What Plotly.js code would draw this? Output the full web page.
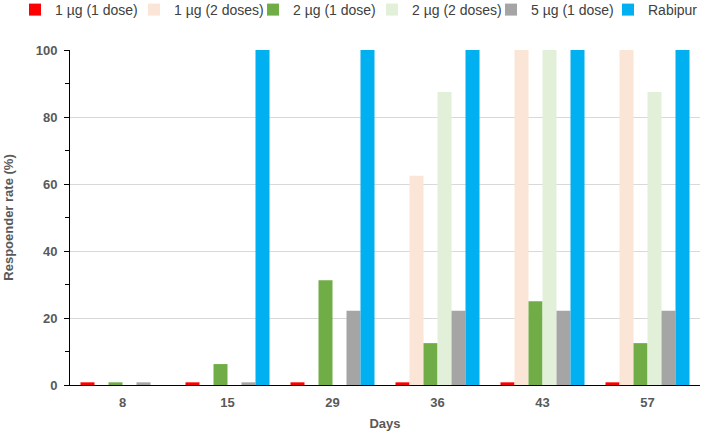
<!DOCTYPE html>
<html>
<head>
<meta charset="utf-8">
<script src="https://cdn.plot.ly/plotly-3.0.1.min.js"></script>
<style>
  html, body { margin: 0; padding: 0; background: #fff; }
  #chart { width: 703px; height: 431px; }
</style>
</head>
<body>
<div id="chart"></div>
<script>
var days = ['8', '15', '29', '36', '43', '57'];

var seriesNames = ['1 µg (1 dose)', '1 µg (2 doses)', '2 µg (1 dose)', '2 µg (2 doses)', '5 µg (1 dose)', 'Rabipur'];
var seriesColors = ['#ff0000', '#fbe5d6', '#70ad47', '#e2f0d9', '#a5a5a5', '#00b0f0'];

var oneUgOneDose = [0.8, 0.8, 0.8, 0.8, 0.8, 0.8];
var oneUgTwoDoses = [null, null, null, 62.5, 100, 100];
var twoUgOneDose = [0.8, 6.25, 31.25, 12.5, 25, 12.5];
var twoUgTwoDoses = [null, null, null, 87.5, 100, 87.5];
var fiveUgOneDose = [0.8, 0.8, 22.2, 22.2, 22.2, 22.2];
var rabipur = [null, 100, 100, 100, 100, 100];

var seriesValues = [oneUgOneDose, oneUgTwoDoses, twoUgOneDose, twoUgTwoDoses, fiveUgOneDose, rabipur];

var font = '"Liberation Sans", Arial, sans-serif';

// last entry sits in its own legend, pinned to the right edge
var traces = seriesValues.map(function(vals, i) {
    var last = i === seriesValues.length - 1;
    var t = {
        type: 'bar',
        name: seriesNames[i],
        x: days,
        y: vals,
        marker: { color: seriesColors[i], line: { width: 0 } },
        legend: last ? 'legend2' : 'legend',
        hoverinfo: 'x+y+name'
    };
    if (!last) t.legendwidth = i === seriesValues.length - 2 ? 86 : 74;
    return t;
});

var legendStyle = {
    orientation: 'h',
    xref: 'container',
    yref: 'container',
    yanchor: 'middle',
    y: 1 - 10 / 431,
    font: { family: font, size: 14, color: '#404040' },
    bgcolor: 'rgba(0,0,0,0)',
    borderwidth: 0,
    itemwidth: 30,
    traceorder: 'normal'
};

var layout = {
    width: 703,
    height: 431,
    margin: { l: 70, r: 3, t: 50, b: 46 },
    paper_bgcolor: '#fff',
    plot_bgcolor: '#fff',
    barmode: 'group',
    bargap: 0.2,
    bargroupgap: 0,
    font: { family: font, color: '#595959' },
    showlegend: true,
    legend: Object.assign({}, legendStyle, { x: 15 / 703, xanchor: 'left' }),
    legend2: Object.assign({}, legendStyle, { x: 1, xanchor: 'right' }),
    xaxis: {
        type: 'category',
        showline: true,
        linecolor: '#000',
        linewidth: 1,
        ticks: '',
        ticklabelstandoff: 5,
        showgrid: false,
        tickfont: { family: font, size: 13, color: '#595959', weight: 'bold' },
        title: { text: '<b>Days</b>', font: { family: font, size: 13, color: '#595959' }, standoff: 12 }
    },
    yaxis: {
        range: [0, 100],
        dtick: 20,
        showline: true,
        linecolor: '#000',
        linewidth: 1,
        ticks: 'outside',
        ticklen: 5,
        tickcolor: '#000',
        ticklabelstandoff: 4,
        showgrid: true,
        gridcolor: '#d9d9d9',
        gridwidth: 1,
        zeroline: false,
        minor: { dtick: 10, ticks: 'outside', ticklen: 4, tickcolor: '#000', showgrid: false },
        tickfont: { family: font, size: 13, color: '#595959', weight: 'bold' },
        title: { text: '<b>Respoender rate (%)</b>', font: { family: font, size: 13, color: '#595959' }, standoff: 19 }
    }
};

Plotly.newPlot('chart', traces, layout, { displayModeBar: false, responsive: false });
</script>
</body>
</html>
